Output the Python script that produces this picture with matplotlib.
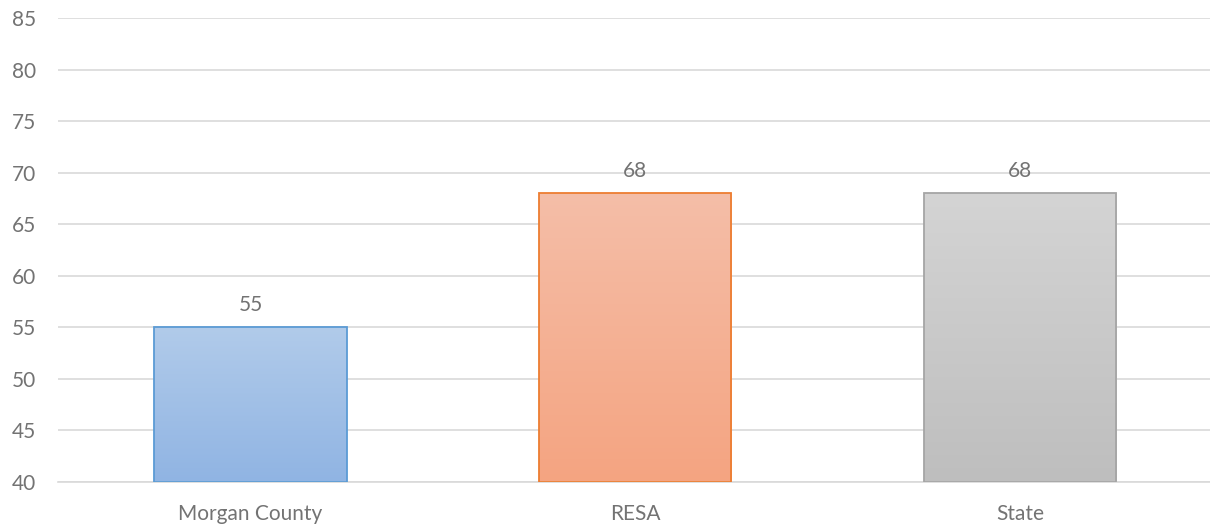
import numpy as np
import matplotlib
matplotlib.use("Agg")
import matplotlib.pyplot as plt
from matplotlib.colors import LinearSegmentedColormap

# Datos del gráfico
categorias = ["Morgan County", "RESA", "State"]
valores = [55, 68, 68]
ticks_y = [40, 45, 50, 55, 60, 65, 70, 75, 80, 85]

# Colores: (arriba, abajo, borde)
colores = [
    ("#b1cbea", "#90b4e3", "#5b9bd5"),
    ("#f5bea8", "#f4a481", "#ed7d31"),
    ("#d4d4d4", "#bebebe", "#a5a5a5"),
]

plt.rcParams["font.family"] = ["Lato", "DejaVu Sans"]
texto = "#737373"
tam = 15

fig = plt.figure(figsize=(12.1, 5.29), dpi=100)
ax = fig.add_axes([0.048, 0.089, 0.954, 0.877])

base = ticks_y[0]
ancho = 0.5
x = np.arange(len(categorias))

for i, (cat, val) in enumerate(zip(categorias, valores)):
    arriba, abajo, borde = colores[i]
    barra = ax.bar(x[i], val - base, bottom=base, width=ancho,
                   facecolor="none", edgecolor=borde, linewidth=1.3, zorder=3)[0]
    cmap = LinearSegmentedColormap.from_list("g%d" % i, [abajo, arriba])
    grad = np.linspace(0, 1, 256).reshape(-1, 1)
    img = ax.imshow(grad, cmap=cmap, origin="lower", aspect="auto",
                    extent=[x[i] - ancho / 2, x[i] + ancho / 2, base, val],
                    zorder=2)
    img.set_clip_path(barra)
    ax.text(x[i], val + 1.2, f"{val}", ha="center", va="bottom",
            fontsize=tam, color=texto, zorder=4)

ax.set_xlim(-0.5, len(categorias) - 0.5)
ax.set_ylim(ticks_y[0], ticks_y[-1])
ax.set_yticks(ticks_y)
ax.set_xticks(x)
ax.set_xticklabels(categorias)
ax.tick_params(axis="both", length=0, labelsize=tam, labelcolor=texto)
ax.tick_params(axis="y", pad=16)
ax.tick_params(axis="x", pad=16)
ax.grid(axis="y", color="#d9d9d9", linewidth=1.2, zorder=0)
ax.set_axisbelow(True)
for lado in ["top", "right", "left"]:
    ax.spines[lado].set_visible(False)
ax.spines["bottom"].set_color("#d9d9d9")
ax.spines["bottom"].set_linewidth(1.2)

fig.savefig("out.png", dpi=100)
